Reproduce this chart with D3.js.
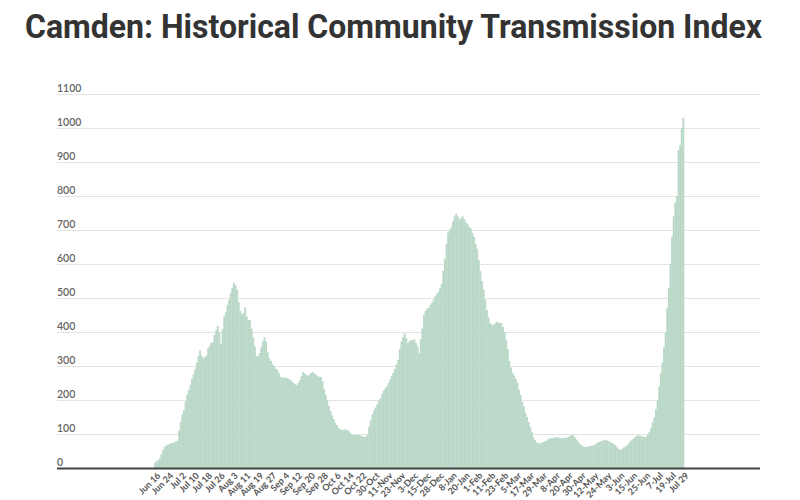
<!DOCTYPE html>
<html>
<head>
<meta charset="utf-8">
<script src="https://cdn.jsdelivr.net/npm/d3@7/dist/d3.min.js"></script>
<style>
  html, body { margin: 0; padding: 0; background: #fff; }
  svg { display: block; }
</style>
</head>
<body>
<svg id="chart" width="800" height="500"></svg>
<script>
const title = "Camden: Historical Community Transmission Index";

// Tick labels, one every 8 bars
const tickLabels = ["Jun 16","Jun 24","Jul 2","Jul 10","Jul 18","Jul 26","Aug 3","Aug 11","Aug 19","Aug 27",
  "Sep 4","Sep 12","Sep 20","Sep 28","Oct 6","Oct 14","Oct 22","30-Oct","11-Nov","23-Nov",
  "3-Dec","15-Dec","28-Dec","8-Jan","20-Jan","1-Feb","11-Feb","23-Feb","5-Mar","17-Mar",
  "29-Mar","8-Apr","20-Apr","30-Apr","12-May","24-May","3-Jun","15-Jun","25-Jun","7-Jul",
  "19-Jul","Jul 29"];

const yTicks = [0,100,200,300,400,500,600,700,800,900,1000,1100];

// Index values (8 bars per tick interval)
const values = [
  15, 20, 22, 28, 40, 52, 62, 66,
  68, 71, 72, 74, 75, 78, 80, 110,
  135, 158, 170, 195, 215, 230, 245, 262,
  275, 290, 310, 330, 345, 330, 322, 326,
  330, 352, 360, 368, 370, 392, 405, 418,
  400, 365, 410, 445, 458, 480, 495, 515,
  530, 545, 538, 525, 488, 462, 452, 455,
  472, 445, 436, 434, 410, 385, 358, 330,
  328, 338, 355, 372, 385, 372, 340, 322,
  315, 305, 300, 292, 288, 278, 268, 266,
  265, 266, 264, 262, 259, 255, 250, 246,
  244, 250, 258, 270, 282, 278, 274, 270,
  275, 280, 282, 278, 274, 270, 268, 268,
  255, 232, 215, 198, 182, 168, 155, 143,
  133, 126, 118, 114, 112, 112, 113, 112,
  110, 104, 100, 97, 96, 97, 97, 96,
  95, 93, 91, 93, 100, 122, 140, 158,
  170, 178, 188, 198, 205, 218, 228, 234,
  240, 250, 260, 270, 280, 292, 305, 318,
  350, 372, 385, 396, 382, 368, 372, 376,
  376, 378, 368, 358, 338, 380, 410, 450,
  462, 468, 472, 480, 486, 495, 505, 512,
  518, 530, 542, 580, 615, 660, 692, 700,
  708, 725, 740, 748, 740, 730, 735, 740,
  732, 722, 718, 710, 705, 692, 680, 660,
  645, 612, 580, 550, 525, 495, 465, 445,
  426, 422, 420, 424, 430, 428, 426, 426,
  415, 400, 378, 350, 315, 295, 280, 272,
  262, 250, 230, 215, 195, 180, 162, 150,
  135, 120, 105, 90, 82, 75, 73, 72,
  74, 76, 78, 80, 84, 87, 88, 88,
  89, 90, 91, 88, 86, 88, 89, 88,
  90, 92, 95, 97, 94, 88, 82, 76,
  70, 66, 64, 62, 62, 63, 64, 65,
  66, 68, 72, 75, 77, 79, 80, 82,
  82, 80, 78, 75, 73, 70, 66, 60,
  55, 52, 56, 60, 63, 66, 72, 78,
  82, 86, 90, 94, 97, 95, 93, 92,
  91, 92, 98, 106, 118, 135, 150, 172,
  200, 240, 280, 310, 355, 400, 470, 530,
  600, 680, 740, 780, 800, 935, 950, 1000,
  1030
];
const labelEvery = 8;

const svg = d3.select("#chart");
const gridLeft = 57, gridRight = 760;
const plotTop = 94, plotBottom = 468;
const barLeft = 154, barRight = 684;

svg.append("text")
  .attr("x", 25).attr("y", 38)
  .attr("textLength", 737)
  .attr("lengthAdjust", "spacingAndGlyphs")
  .attr("font-family", "Roboto, 'Open Sans', sans-serif")
  .attr("font-weight", 700)
  .attr("font-size", 33)
  .attr("fill", "#333")
  .text(title);

const y = d3.scaleLinear().domain([0, 1100]).range([plotBottom, plotTop]);
const x = d3.scaleBand().domain(d3.range(values.length)).range([barLeft, barRight]).padding(0);

// gridlines + y labels
const yAxis = d3.axisLeft(y).tickValues(yTicks).tickSize(-(gridRight - gridLeft)).tickFormat(d3.format("d"));
const gy = svg.append("g").attr("transform", `translate(${gridLeft},0)`).call(yAxis);
gy.select(".domain").remove();
gy.selectAll(".tick line").attr("stroke", "#e3e3e3").attr("stroke-width", 1);
gy.selectAll(".tick text")
  .attr("x", 0).attr("y", -3).attr("dy", 0)
  .attr("text-anchor", "start")
  .attr("font-family", "Lato, 'Open Sans', sans-serif")
  .attr("font-weight", 600)
  .attr("font-size", 10.5)
  .attr("fill", "#666");

// bars
svg.append("g").selectAll("rect")
  .data(values)
  .join("rect")
  .attr("x", (d, i) => x(i))
  .attr("width", x.bandwidth() + 0.3)
  .attr("y", d => y(d))
  .attr("height", d => y(0) - y(d))
  .attr("fill", "#bad8c8");

// x axis
const tickIdx = tickLabels.map((_, i) => i * labelEvery);
const xAxis = d3.axisBottom(x).tickValues(tickIdx).tickSize(0)
  .tickFormat(i => tickLabels[i / labelEvery]);
const gx = svg.append("g").attr("transform", `translate(0,${plotBottom})`).call(xAxis);
gx.select(".domain").remove();
gx.selectAll(".tick text")
  .attr("transform", "translate(4,6) rotate(-45)")
  .attr("x", 0).attr("y", 0).attr("dy", "0.35em")
  .attr("text-anchor", "end")
  .attr("font-family", "Lato, 'Open Sans', sans-serif")
  .attr("font-weight", 700)
  .attr("font-size", 9)
  .attr("fill", "#555");

svg.append("line")
  .attr("x1", gridLeft).attr("x2", gridRight)
  .attr("y1", plotBottom + 0.5).attr("y2", plotBottom + 0.5)
  .attr("stroke", "#444").attr("stroke-width", 2);
</script>
</body>
</html>
